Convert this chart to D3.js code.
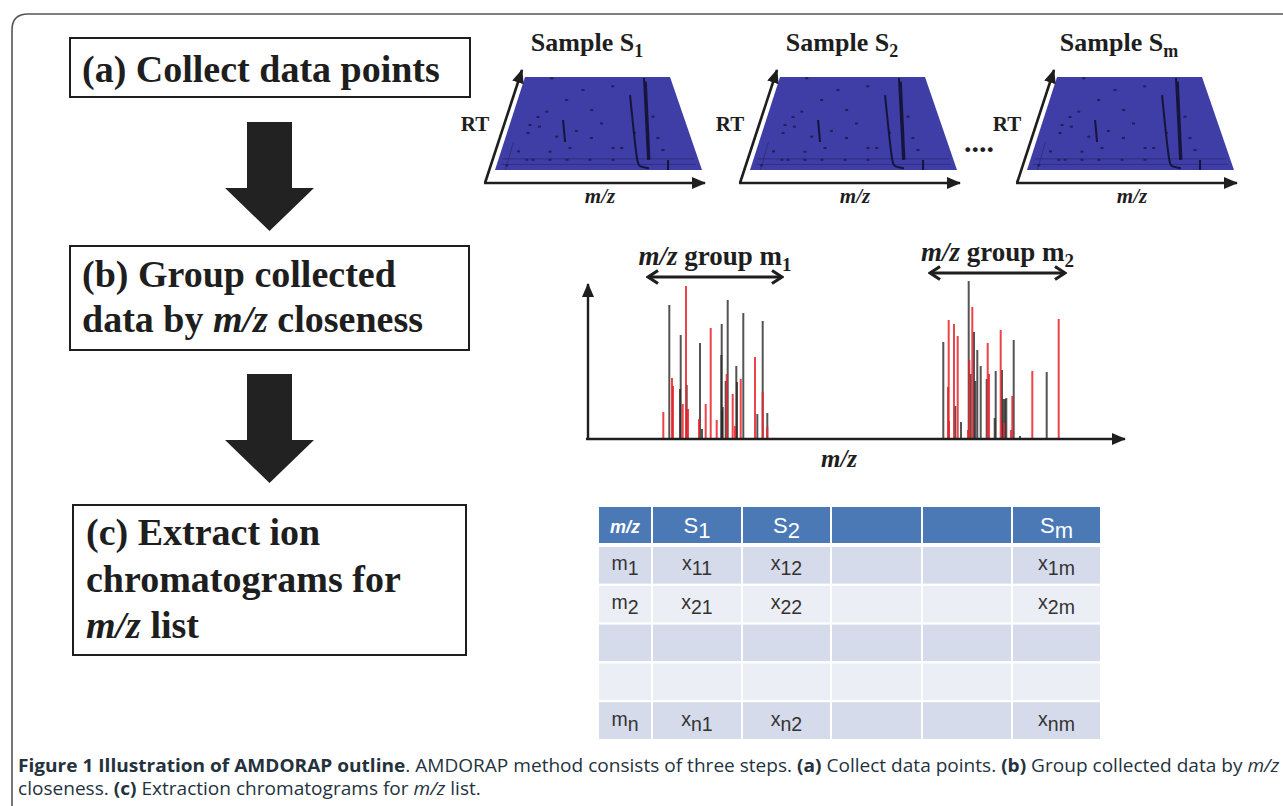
<!DOCTYPE html>
<html>
<head>
<meta charset="utf-8">
<script src="https://cdn.jsdelivr.net/npm/d3@7"></script>
<style>
  html, body { margin: 0; padding: 0; background: #fff; }
  svg { display: block; }
  text { white-space: pre; }
</style>
</head>
<body>
<div id="fig"></div>
<script>

// --------------- Data --------------- //

// Step boxes on the left: lines of [text, italic]
const stepA = [[["(a) Collect data points", false]]];
const stepB = [[["(b) Group collected", false]],
               [["data by ", false], ["m/z", true], [" closeness", false]]];
const stepC = [[["(c) Extract ion", false]],
               [["chromatograms for", false]],
               [["m/z", true], [" list", false]]];

// Samples shown as RT x m/z planes
const sampleSubs = ["1", "2", "m"];

// dark spots on each plane, [u along m/z, v along RT]
const speckles = [
  [0.186, 0.986], [0.306, 0.753], [0.151, 0.57], [0.196, 0.627], [0.116, 0.484],
  [0.171, 0.466], [0.116, 0.398], [0.463, 0.645], [0.464, 0.344], [0.577, 0.237],
  [0.622, 0.237], [0.821, 0.573], [0.822, 0.344], [0.834, 0.215], [0.276, 0.358],
  [0.252, 0.197], [0.353, 0.237], [0.405, 0.86], [0.143, 0.11], [0.173, 0.11],
  [0.258, 0.11], [0.343, 0.11], [0.458, 0.11], [0.573, 0.11], [0.09, 0.2],
  [0.52, 0.5], [0.6, 0.9], [0.7, 0.4], [0.38, 0.42], [0.05, 0.05]
];
// peak ridges on each plane
const streaks = [
  [[0.706, 0.806], [0.690, 0.075], [0.70, 0.035], [0.745, 0.02]],
  [[0.819, 0.989], [0.748, 0.108]],
  [[0.826, 0.95], [0.755, 0.11]],
  [[0.299, 0.538], [0.324, 0.301]],
  [[0.848, 0.108], [0.836, 0.0]]
];
const ridges = [
  [[0.02, 0.12], [0.98, 0.12]],
  [[0.02, 0.06], [0.98, 0.06]],
  [[0.05, 0.0], [0.05, 0.3]]
];

// Spectrum peaks (m/z units, intensity)
const blackMz  = [81.3, 92.7, 92, 98.7, 112, 114, 133.7, 133.3, 134.7, 134, 137.7, 139.7, 148.3, 149, 155.3, 169.3, 174.7, 179.3,
                  355.3, 367.3, 373, 380.7, 382.7, 386, 387.3, 389.3, 392.7, 398.7, 406.7, 407.7, 414, 415.3, 417, 418.3, 425.7, 432, 458.7];
const blackInt = [134, 104, 50, 54, 96, 10, 115, 84, 32, 28, 58, 139, 73, 57, 126, 25, 118, 26,
                  97, 33, 17, 158, 65, 107, 58, 89, 73, 60, 21, 68, 69, 40, 40, 41, 99, 3, 67];
const redMz    = [75.3, 84, 85, 94.7, 98, 100, 111, 117.7, 122.7, 128.7, 138.7, 144.7, 147, 152.7, 167, 174.7, 179.3,
                  360.7, 360, 361, 366, 369.7, 381.3, 380, 384.3, 399.7, 401, 412.7, 416, 424.3, 423, 444.3, 470.7];
const redInt   = [27, 61, 53, 35, 153, 30, 20, 35, 111, 19, 65, 45, 13, 60, 82, 47, 12,
                  119, 52, 18, 115, 103, 79, 9, 132, 96, 65, 109, 16, 43, 9, 68, 120];

// m/z groups
const groupSubs  = ["1", "2"];
const groupStart = [60, 342];
const groupEnd   = [194, 477];

// Output table: [main, subscript]
const tableHeader = [["m/z", ""], ["S", "1"], ["S", "2"], ["", ""], ["", ""], ["S", "m"]];
const tableRows = [
  [["m", "1"], ["x", "11"], ["x", "12"], ["", ""], ["", ""], ["x", "1m"]],
  [["m", "2"], ["x", "21"], ["x", "22"], ["", ""], ["", ""], ["x", "2m"]],
  [["", ""], ["", ""], ["", ""], ["", ""], ["", ""], ["", ""]],
  [["", ""], ["", ""], ["", ""], ["", ""], ["", ""], ["", ""]],
  [["m", "n"], ["x", "n1"], ["x", "n2"], ["", ""], ["", ""], ["x", "nm"]]
];

// Caption: [text, style]
const captionLine1 = [["Figure 1 Illustration of AMDORAP outline", "b"], [". AMDORAP method consists of three steps. ", ""],
  ["(a)", "b"], [" Collect data points. ", ""], ["(b)", "b"], [" Group collected data by ", ""], ["m/z", "i"]];
const captionLine2 = [["closeness. ", ""], ["(c)", "b"], [" Extraction chromatograms for ", ""], ["m/z", "i"], [" list.", ""]];


// --------------- Basic Setup --------------- //

const width = 1283, height = 806;
const serif = "'Liberation Serif', 'Times New Roman', serif";
const sans = "'Liberation Sans', Arial, sans-serif";
const ink = "#1e1e1e";

const svg = d3.select("#fig")
    .append("svg")
    .attr("width", width)
    .attr("height", height)
    .attr("viewBox", [0, 0, width, height]);

const defs = svg.append("defs");
defs.append("marker")
    .attr("id", "head")
    .attr("viewBox", "0 0 14 12")
    .attr("markerUnits", "userSpaceOnUse")
    .attr("markerWidth", 14).attr("markerHeight", 12)
    .attr("refX", 13).attr("refY", 6)
    .attr("orient", "auto")
    .append("path").attr("d", "M0,0 L14,6 L0,12 Z").attr("fill", ink);
defs.append("marker")
    .attr("id", "chevron")
    .attr("viewBox", "0 0 14 16")
    .attr("markerUnits", "userSpaceOnUse")
    .attr("markerWidth", 14).attr("markerHeight", 16)
    .attr("refX", 12).attr("refY", 8)
    .attr("orient", "auto-start-reverse")
    .append("path").attr("d", "M2,1.5 L12,8 L2,14.5")
    .attr("fill", "none").attr("stroke", ink).attr("stroke-width", 3.2);

// outer frame
svg.append("path")
    .attr("d", "M12,806 V30 Q12,14 28,14 H1283")
    .attr("fill", "none").attr("stroke", "#555").attr("stroke-width", 1.6);


// --------------- Left: steps --------------- //

const steps = [
  {lines: stepA, x: 70, y: 38, w: 400, h: 59, tx: 82, base: [82]},
  {lines: stepB, x: 70, y: 246, w: 399, h: 104, tx: 82, base: [287, 332]},
  {lines: stepC, x: 73, y: 505, w: 393, h: 150, tx: 86, base: [545, 592, 638]}
];

steps.forEach(s => {
  svg.append("rect")
      .attr("x", s.x).attr("y", s.y).attr("width", s.w).attr("height", s.h)
      .attr("fill", "none").attr("stroke", ink).attr("stroke-width", 2);
  s.lines.forEach((segs, i) => {
    const t = svg.append("text")
        .attr("x", s.tx).attr("y", s.base[i])
        .attr("font-family", serif).attr("font-weight", "bold")
        .attr("font-size", 38).attr("fill", ink);
    segs.forEach(([str, it]) => t.append("tspan").attr("font-style", it ? "italic" : "normal").text(str));
  });
});

// big down arrows between steps
const arrowTops = [122, 374];
svg.selectAll(".bigArrow")
    .data(arrowTops)
    .join("path")
    .attr("class", "bigArrow")
    .attr("d", t => d3.line()([[247, t], [292, t], [292, t + 66], [314, t + 66],
                                [269.5, t + 109], [225, t + 66], [247, t + 66]]) + "Z")
    .attr("fill", "#222");


// --------------- Top: sample planes --------------- //

const sampleX = [485, 740, 1017];
const baseY = 183;
const bottomX = d3.scaleLinear([0, 1], [10, 217]);
const topX = d3.scaleLinear([0, 1], [40, 185]);
const depthY = d3.scaleLinear([0, 1], [-13, -106]);

sampleSubs.forEach((sub, i) => {
  const ox = sampleX[i];
  const proj = ([u, v]) => [ox + bottomX(u) * (1 - v) + topX(u) * v, baseY + depthY(v)];
  const g = svg.append("g");

  g.append("path")
      .attr("d", d3.line()([[0, 0], [1, 0], [1, 1], [0, 1]].map(proj)) + "Z")
      .attr("fill", "#3e3ea6");

  g.selectAll(".ridge").data(ridges).join("path")
      .attr("d", d => d3.line()(d.map(proj)))
      .attr("fill", "none").attr("stroke", "#222260").attr("stroke-width", 1).attr("opacity", 0.5);

  g.selectAll(".speck").data(speckles).join("rect")
      .attr("x", d => proj(d)[0] - 1.5).attr("y", d => proj(d)[1] - 1)
      .attr("width", 3).attr("height", 2)
      .attr("fill", "#20205a");

  g.selectAll(".streak").data(streaks).join("path")
      .attr("d", d => d3.line().curve(d3.curveBasis)(d.map(proj)))
      .attr("fill", "none").attr("stroke", "#15153a").attr("stroke-width", 2);

  // axes
  g.append("line")
      .attr("x1", ox).attr("y1", baseY).attr("x2", ox + 37).attr("y2", 70)
      .attr("stroke", ink).attr("stroke-width", 2.6).attr("marker-end", "url(#head)");
  g.append("line")
      .attr("x1", ox - 1).attr("y1", baseY).attr("x2", ox + 220).attr("y2", baseY)
      .attr("stroke", ink).attr("stroke-width", 2.6).attr("marker-end", "url(#head)");

  g.append("text")
      .attr("x", ox - 10).attr("y", 131).attr("text-anchor", "middle")
      .attr("font-family", serif).attr("font-weight", "bold").attr("font-size", 21)
      .attr("fill", ink).text("RT");
  g.append("text")
      .attr("x", ox + 115).attr("y", 203).attr("text-anchor", "middle")
      .attr("font-family", serif).attr("font-weight", "bold").attr("font-style", "italic")
      .attr("font-size", 21).attr("fill", ink).text("m/z");

  const title = g.append("text")
      .attr("x", ox + 102).attr("y", 51).attr("text-anchor", "middle")
      .attr("font-family", serif).attr("font-weight", "bold").attr("font-size", 26)
      .attr("fill", ink);
  title.append("tspan").text("Sample S");
  title.append("tspan").attr("font-size", 18).attr("dy", 6).text(sub);
});

svg.append("text")
    .attr("x", 964).attr("y", 152)
    .attr("font-family", serif).attr("font-weight", "bold").attr("font-size", 30)
    .attr("fill", ink).text("....");


// --------------- Middle: spectrum --------------- //

const x = d3.scaleLinear([0, 537], [588, 1125]);
const y = d3.scaleLinear([0, 160], [439, 279]);

const spec = svg.append("g");

spec.selectAll(".blk")
    .data(d3.zip(blackMz, blackInt))
    .join("line")
    .attr("x1", d => x(d[0])).attr("x2", d => x(d[0]))
    .attr("y1", y(0)).attr("y2", d => y(d[1]))
    .attr("stroke", "#2a2a2a").attr("stroke-width", 2).attr("opacity", 0.8);

spec.selectAll(".red")
    .data(d3.zip(redMz, redInt))
    .join("line")
    .attr("x1", d => x(d[0])).attr("x2", d => x(d[0]))
    .attr("y1", y(0)).attr("y2", d => y(d[1]))
    .attr("stroke", "#e8242b").attr("stroke-width", 2).attr("opacity", 0.85);

spec.append("line")
    .attr("x1", x(0)).attr("y1", y(0)).attr("x2", x(0)).attr("y2", 284)
    .attr("stroke", ink).attr("stroke-width", 2.4).attr("marker-end", "url(#head)");
spec.append("line")
    .attr("x1", x(0) - 2).attr("y1", y(0)).attr("x2", x(537)).attr("y2", y(0))
    .attr("stroke", ink).attr("stroke-width", 2.4).attr("marker-end", "url(#head)");

spec.append("text")
    .attr("x", 839).attr("y", 467).attr("text-anchor", "middle")
    .attr("font-family", serif).attr("font-weight", "bold").attr("font-style", "italic")
    .attr("font-size", 25).attr("fill", ink).text("m/z");

groupSubs.forEach((sub, i) => {
  const ay = 277 - 4 * i;
  spec.append("line")
      .attr("x1", x(groupStart[i])).attr("x2", x(groupEnd[i]))
      .attr("y1", ay).attr("y2", ay)
      .attr("stroke", ink).attr("stroke-width", 3)
      .attr("marker-start", "url(#chevron)").attr("marker-end", "url(#chevron)");
  const t = spec.append("text")
      .attr("x", (x(groupStart[i]) + x(groupEnd[i])) / 2).attr("y", ay - 12)
      .attr("text-anchor", "middle")
      .attr("font-family", serif).attr("font-weight", "bold").attr("font-size", 27)
      .attr("fill", ink);
  t.append("tspan").attr("font-style", "italic").text("m/z");
  t.append("tspan").text(" group m");
  t.append("tspan").attr("font-size", 19).attr("dy", 6).text(sub);
});


// --------------- Bottom: table --------------- //

const colEdges = [598, 652, 742, 831, 922, 1012, 1101];
const rowY = d3.scaleBand().domain(d3.range(tableRows.length)).range([546, 740]);
const tbl = svg.append("g");

function cellText(sel, cx, by, [main, sub], size, color, headerMz) {
  if (!main) return;
  const t = sel.append("text")
      .attr("x", cx).attr("y", by).attr("text-anchor", "middle")
      .attr("font-family", sans).attr("font-size", size).attr("fill", color);
  if (headerMz) t.attr("font-weight", "bold").attr("font-style", "italic");
  t.append("tspan").text(main);
  if (sub) t.append("tspan").attr("dy", 5).text(sub);
}

tableHeader.forEach((h, j) => {
  tbl.append("rect")
      .attr("x", colEdges[j]).attr("y", 506)
      .attr("width", colEdges[j + 1] - colEdges[j]).attr("height", 38)
      .attr("fill", "#4a79b6").attr("stroke", "#fff").attr("stroke-width", 2);
  const cx = (colEdges[j] + colEdges[j + 1]) / 2;
  if (j === 0) cellText(tbl, cx, 533, h, 18, "#fff", true);
  else cellText(tbl, cx, 533, h, 22, "#fff", false);
});

tableRows.forEach((row, i) => {
  row.forEach((c, j) => {
    tbl.append("rect")
        .attr("x", colEdges[j]).attr("y", rowY(i))
        .attr("width", colEdges[j + 1] - colEdges[j]).attr("height", rowY.bandwidth())
        .attr("fill", i % 2 === 0 ? "#d5dbea" : "#eceef5")
        .attr("stroke", "#fff").attr("stroke-width", 2);
    cellText(tbl, (colEdges[j] + colEdges[j + 1]) / 2, rowY(i) + rowY.bandwidth() / 2 + 5, c, 19.5, "#333", false);
  });
});


// --------------- Caption --------------- //

function captionText(segs) {
  const t = svg.append("text")
      .attr("x", 0).attr("y", 0)
      .attr("font-family", "'Liberation Sans Narrow', 'Open Sans', sans-serif")
      .attr("font-size", 18).attr("fill", "#24323e");
  segs.forEach(([str, st]) => t.append("tspan")
      .attr("font-weight", st === "b" ? "bold" : "normal")
      .attr("font-style", st === "i" ? "italic" : "normal")
      .text(str));
  return t;
}
const cap1 = captionText(captionLine1);
const cap2 = captionText(captionLine2);
const sx = 1262 / cap1.node().getBBox().width;
cap1.attr("transform", `translate(18,772) scale(${sx},1)`);
cap2.attr("transform", `translate(18,795) scale(${sx},1)`);

</script>
</body>
</html>
